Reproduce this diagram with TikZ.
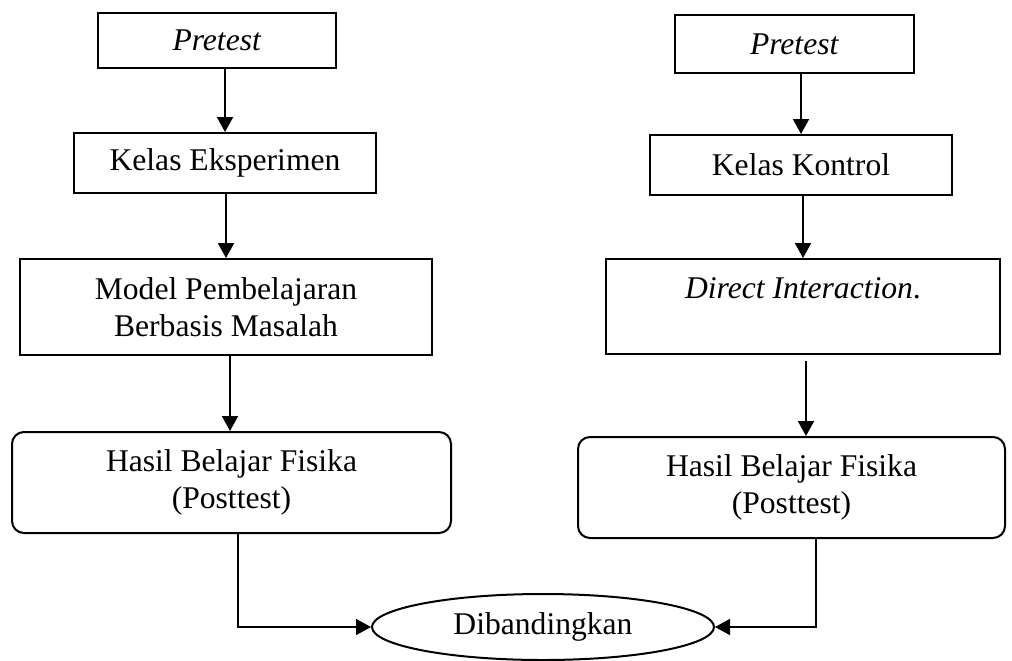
\documentclass[tikz,border=0pt]{standalone}
\usepackage{fontspec}
\setmainfont{Liberation Serif}
\usetikzlibrary{calc}
\usetikzlibrary{shapes}
\usetikzlibrary{arrows.meta}

\begin{document}
\begin{tikzpicture}[x=0.5pt, y=-0.5pt,
	kotak/.style={rectangle, draw, line width=1pt, inner sep=0pt, align=center, font=\fontsize{15.8}{18.3}\selectfont},
	bulat/.style={kotak, rounded corners=6pt},
	panah/.style={line width=1pt, -{Triangle[width=8pt,length=7.5pt]}}]
				\useasboundingbox (0,0) rectangle (1012,660);
				\node[kotak, minimum width=119pt, minimum height=27.5pt] (0) at (217,40.5) {\textit{Pretest}};
				\node[kotak, minimum width=151pt, minimum height=30pt] (1) at (225,163) {Kelas Eksperimen};
				\node[kotak, minimum width=206pt, minimum height=48pt] (2) at (226,307) {Model Pembelajaran\\Berbasis Masalah};
				\node[bulat, minimum width=219.5pt, minimum height=50.5pt] (3) at (231.5,482.5) {Hasil Belajar Fisika\\(Posttest)};
				\node[kotak, minimum width=119.5pt, minimum height=29pt] (4) at (794.5,44) {\textit{Pretest}};
				\node[kotak, minimum width=151pt, minimum height=30pt] (5) at (801,165) {Kelas Kontrol};
				\node[kotak, minimum width=197pt, minimum height=47.5pt] (6) at (803,306.5) {\textit{Direct Interaction}.\\\mbox{}};
				\node[bulat, minimum width=213.5pt, minimum height=50.5pt] (7) at (791.5,487.5) {Hasil Belajar Fisika\\(Posttest)};
				\node[kotak, ellipse, minimum width=171pt, minimum height=33pt] (8) at (543,627) {Dibandingkan};
				
				\draw[panah] (0.south -| 1.north) -- (1.north);
				\draw[panah] (1.south -| 2.north) -- (2.north);
				\draw[panah] ($(2.south)+(4,0)$) -- ($(3.north)+(-1.5,0)$);
				\draw[panah] (4.south -| 5.north) -- (5.north);
				\draw[panah] (5.south -| 6.north) -- (6.north);
				\draw[panah] ($(6.south)+(3,6)$) -- ($(7.north)+(14.5,0)$);
				
				\draw[panah, line width=0.8pt] ($(3.south)+(6.5,0)$) |- (8.west);
				\draw[panah, line width=0.8pt] ($(7.south)+(24.5,0)$) |- (8.east);
			\end{tikzpicture}
\end{document}
